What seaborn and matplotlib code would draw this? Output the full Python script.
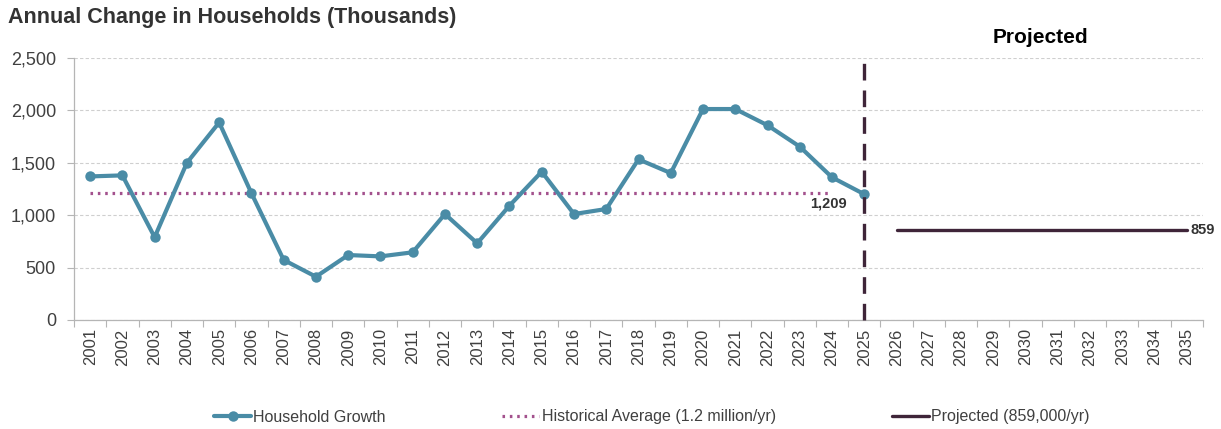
import numpy as np
import pandas as pd
import matplotlib
matplotlib.use("Agg")
import matplotlib.pyplot as plt
import seaborn as sns
from matplotlib.lines import Line2D
from matplotlib.ticker import FuncFormatter

# ---- data ----
years = list(range(2001, 2036))
hist_years = list(range(2001, 2026))
growth = [1370, 1380, 790, 1500, 1885, 1210, 573, 413, 620, 607, 646, 1011,
          732, 1091, 1415, 1011, 1059, 1533, 1402, 2013, 2013, 1858, 1654, 1361, 1200]
avg_years = list(range(2001, 2025))
hist_avg = [1209] * len(avg_years)
proj_years = list(range(2026, 2036))
projected = [859] * len(proj_years)
yticks = [0, 500, 1000, 1500, 2000, 2500]

sns.set_theme(style="white")
plt.rcParams['font.family'] = ['Liberation Sans', 'DejaVu Sans']

c_growth = '#4a8ca6'
c_avg = '#a3518d'
c_proj = '#3f2539'
c_text = '#404040'

fig = plt.figure(figsize=(12.21, 4.29), dpi=100)
ax = fig.add_axes([74/1221, 1-320/429, (1203-74)/1221, 262/429])

pos = {y: i for i, y in enumerate(years)}
df_g = pd.DataFrame({'x': [pos[y] for y in hist_years], 'v': growth})
df_a = pd.DataFrame({'x': [pos[y] for y in avg_years], 'v': hist_avg})
df_p = pd.DataFrame({'x': [pos[y] for y in proj_years], 'v': projected})

avg_style = (0, (0.8, 1.5))
sns.lineplot(data=df_a, x='x', y='v', ax=ax, color=c_avg, lw=2.3,
             linestyle=avg_style, zorder=3)
sns.lineplot(data=df_g, x='x', y='v', ax=ax, color=c_growth, lw=3.0,
             marker='o', markersize=7.5, markeredgewidth=0, zorder=4)
sns.lineplot(data=df_p, x='x', y='v', ax=ax, color=c_proj, lw=2.4, zorder=4)

ax.axvline(pos[2025], ymin=0, ymax=1.015, color=c_proj, lw=2.4,
           linestyle=(0, (5, 3)), zorder=5, clip_on=False)

ax.set_xlim(-0.5, len(years) - 0.5)
ax.set_ylim(0, 2500)
ax.set_yticks(yticks)
ax.yaxis.set_major_formatter(FuncFormatter(lambda v, p: f"{int(v):,}"))
ax.set_xticks(range(len(years)))
ax.set_xticklabels([str(y) for y in years], rotation=90, fontsize=12, color=c_text)
ax.set_xticks(np.arange(-0.5, len(years), 1), minor=True)
ax.tick_params(axis='x', which='major', length=0, pad=6)
ax.tick_params(axis='x', which='minor', length=5, color='#b5b5b5', width=0.8, bottom=True)
ax.tick_params(axis='y', which='major', length=5, color='#b5b5b5', width=0.8,
               labelsize=13, labelcolor=c_text, left=True, pad=8)
ax.set_xlabel('')
ax.set_ylabel('')

ax.grid(axis='y', color='#cfcfcf', linestyle=(0, (3, 2)), lw=0.8)
ax.grid(axis='x', visible=False)
for s in ['top', 'right']:
    ax.spines[s].set_visible(False)
for s in ['left', 'bottom']:
    ax.spines[s].set_color('#b5b5b5')
    ax.spines[s].set_linewidth(0.9)

ax.text(pos[2024] + 0.45, 1107, f"{hist_avg[0]:,}", ha='right', va='center',
        fontsize=10.5, fontweight='bold', color='#333333')
ax.text(pos[2035] + 0.12, projected[-1], f"{projected[-1]:,}", ha='left', va='center',
        fontsize=10.5, fontweight='bold', color='#333333', clip_on=False)

ax.text(0.856, 1.08, 'Projected', transform=ax.transAxes, ha='center', va='center',
        fontsize=15, fontweight='bold', color='black')
fig.text(8/1221, 1-18/429, 'Annual Change in Households (Thousands)', ha='left',
         va='center', fontsize=15.5, fontweight='bold', color='#333333')

handles = [
    Line2D([], [], color=c_growth, lw=3.0, marker='o', markersize=7.5, markeredgewidth=0),
    Line2D([], [], color=c_avg, lw=2.3, linestyle=avg_style),
    Line2D([], [], color=c_proj, lw=2.4),
]
labels = ['Household Growth', 'Historical Average (1.2 million/yr)', 'Projected (859,000/yr)']
leg = fig.legend(handles, labels, loc='center', bbox_to_anchor=(652/1221, 1-417/429),
                 ncol=3, frameon=False, fontsize=11.5, handlelength=2.3,
                 handletextpad=0.15, columnspacing=7.3, labelcolor=c_text)

fig.savefig('out.png', dpi=100)
